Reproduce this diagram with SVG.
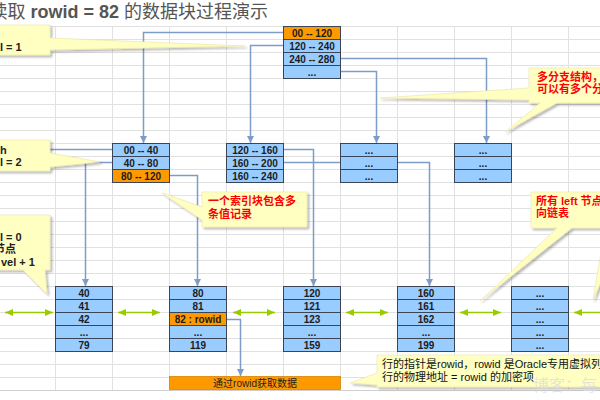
<svg xmlns="http://www.w3.org/2000/svg" width="600" height="400" viewBox="0 0 600 400">
<defs>
<pattern id="grid" x="55" y="26" width="57" height="13" patternUnits="userSpaceOnUse">
<path d="M0 0.5H57M0.5 0V13" fill="none" stroke="#e1e1e1" stroke-width="1"/>
</pattern>
<marker id="ah" markerUnits="userSpaceOnUse" markerWidth="8" markerHeight="8" refX="7" refY="3.5" orient="auto">
<path d="M0 0L7 3.5L0 7z" fill="#7e9cc8"/>
</marker>
<marker id="gh" markerUnits="userSpaceOnUse" markerWidth="10" markerHeight="10" refX="8" refY="3.5" orient="auto-start-reverse">
<path d="M0 0L8 3.5L0 7z" fill="#99cc00"/>
</marker>
<filter id="sh" x="-5%" y="-10%" width="115%" height="130%">
<feDropShadow dx="2" dy="2" stdDeviation="1.2" flood-color="#000" flood-opacity="0.28"/>
</filter>
</defs>
<style>
.cb{fill:#99ccff;stroke:#3a4658;stroke-width:1}
.co{fill:#ff9900;stroke:#3a4658;stroke-width:1}
.nt{font-family:"Liberation Sans","Noto Sans CJK SC",sans-serif;font-size:10px;font-weight:bold;fill:#1c1c1c;text-anchor:middle}
.conn{fill:none;stroke:#7e9cc8;stroke-width:1.5}
.link{fill:none;stroke:#99cc00;stroke-width:1.5;marker-start:url(#gh);marker-end:url(#gh)}
.callout{fill:#ffffc2;stroke:#ebe3a6;stroke-width:0.6;filter:url(#sh)}
.ct{font-family:"Liberation Sans","Noto Sans CJK SC",sans-serif;font-size:11px;font-weight:bold;fill:#222}
.red{fill:#ff0000}
.bt{font-family:"Liberation Sans","Noto Sans CJK SC",sans-serif;font-size:11px;fill:#111}
</style>
<rect x="0" y="0" width="600" height="400" fill="#ffffff"/>
<rect x="0" y="26" width="600" height="364" fill="url(#grid)"/>
<line x1="0" y1="390.5" x2="600" y2="390.5" stroke="#cfcfcf" stroke-width="1"/>
<text x="268" y="18" text-anchor="end" font-family="'Liberation Sans','Noto Sans CJK SC',sans-serif" font-size="18" fill="#555">读取 <tspan font-weight="bold">rowid = 82</tspan> 的数据块过程演示</text>

<g id="connectors">
<path class="conn" d="M283 32.5H143.5V143" marker-end="url(#ah)"/>
<path class="conn" d="M283 45.5H250.5V143" marker-end="url(#ah)"/>
<path class="conn" d="M340 58.5H486.5V143" marker-end="url(#ah)"/>
<path class="conn" d="M340 71.5H376.5V143" marker-end="url(#ah)"/>
<path class="conn" d="M112 149.5H-5"/>
<path class="conn" d="M112 162.5H85.5V286" marker-end="url(#ah)"/>
<path class="conn" d="M169 175.5H197.5V286" marker-end="url(#ah)"/>
<path class="conn" d="M283 149.5H313.5V286" marker-end="url(#ah)"/>
<path class="conn" d="M283 162.5H429.5V286" marker-end="url(#ah)"/>
<path class="conn" d="M226 319.5H240.5V376" marker-end="url(#ah)"/>
<line class="link" x1="5" y1="312.5" x2="53" y2="312.5"/>
<line class="link" x1="118" y1="312.5" x2="160" y2="312.5"/>
<line class="link" x1="233" y1="312.5" x2="275" y2="312.5"/>
<line class="link" x1="346" y1="312.5" x2="388" y2="312.5"/>
<line class="link" x1="460" y1="312.5" x2="501" y2="312.5"/>
<line class="link" x1="574" y1="312.5" x2="616" y2="312.5"/>
</g>

<g id="root">
<rect class="co" x="283.5" y="26.5" width="57" height="13"/><text class="nt" x="312" y="36.5">00 -- 120</text>
<rect class="cb" x="283.5" y="39.5" width="57" height="13"/><text class="nt" x="312" y="49.5">120 -- 240</text>
<rect class="cb" x="283.5" y="52.5" width="57" height="13"/><text class="nt" x="312" y="62.5">240 -- 280</text>
<rect class="cb" x="283.5" y="65.5" width="57" height="13"/><text class="nt" x="312" y="75.5">...</text>
</g>

<g id="branch-a">
<rect class="cb" x="112.5" y="143.5" width="57" height="13"/><text class="nt" x="141" y="153.5">00 -- 40</text>
<rect class="cb" x="112.5" y="156.5" width="57" height="13"/><text class="nt" x="141" y="166.5">40 -- 80</text>
<rect class="co" x="112.5" y="169.5" width="57" height="13"/><text class="nt" x="141" y="179.5">80 -- 120</text>
</g>
<g id="branch-b">
<rect class="cb" x="226.5" y="143.5" width="57" height="13"/><text class="nt" x="255" y="153.5">120 -- 160</text>
<rect class="cb" x="226.5" y="156.5" width="57" height="13"/><text class="nt" x="255" y="166.5">160 -- 200</text>
<rect class="cb" x="226.5" y="169.5" width="57" height="13"/><text class="nt" x="255" y="179.5">160 -- 240</text>
</g>
<g id="branch-c">
<rect class="cb" x="340.5" y="143.5" width="57" height="13"/><text class="nt" x="369" y="153.5">...</text>
<rect class="cb" x="340.5" y="156.5" width="57" height="13"/><text class="nt" x="369" y="166.5">...</text>
<rect class="cb" x="340.5" y="169.5" width="57" height="13"/><text class="nt" x="369" y="179.5">...</text>
</g>
<g id="branch-d">
<rect class="cb" x="454.5" y="143.5" width="57" height="13"/><text class="nt" x="483" y="153.5">...</text>
<rect class="cb" x="454.5" y="156.5" width="57" height="13"/><text class="nt" x="483" y="166.5">...</text>
<rect class="cb" x="454.5" y="169.5" width="57" height="13"/><text class="nt" x="483" y="179.5">...</text>
</g>

<g id="leaf-1">
<rect class="cb" x="55.5" y="286.5" width="57" height="13"/><text class="nt" x="84" y="296.5">40</text>
<rect class="cb" x="55.5" y="299.5" width="57" height="13"/><text class="nt" x="84" y="309.5">41</text>
<rect class="cb" x="55.5" y="312.5" width="57" height="13"/><text class="nt" x="84" y="322.5">42</text>
<rect class="cb" x="55.5" y="325.5" width="57" height="13"/><text class="nt" x="84" y="335.5">...</text>
<rect class="cb" x="55.5" y="338.5" width="57" height="13"/><text class="nt" x="84" y="348.5">79</text>
</g>
<g id="leaf-2">
<rect class="cb" x="169.5" y="286.5" width="57" height="13"/><text class="nt" x="198" y="296.5">80</text>
<rect class="cb" x="169.5" y="299.5" width="57" height="13"/><text class="nt" x="198" y="309.5">81</text>
<rect class="co" x="169.5" y="312.5" width="57" height="13"/><text class="nt" x="198" y="322.5">82 : rowid</text>
<rect class="cb" x="169.5" y="325.5" width="57" height="13"/><text class="nt" x="198" y="335.5">...</text>
<rect class="cb" x="169.5" y="338.5" width="57" height="13"/><text class="nt" x="198" y="348.5">119</text>
</g>
<g id="leaf-3">
<rect class="cb" x="283.5" y="286.5" width="57" height="13"/><text class="nt" x="312" y="296.5">120</text>
<rect class="cb" x="283.5" y="299.5" width="57" height="13"/><text class="nt" x="312" y="309.5">121</text>
<rect class="cb" x="283.5" y="312.5" width="57" height="13"/><text class="nt" x="312" y="322.5">123</text>
<rect class="cb" x="283.5" y="325.5" width="57" height="13"/><text class="nt" x="312" y="335.5">...</text>
<rect class="cb" x="283.5" y="338.5" width="57" height="13"/><text class="nt" x="312" y="348.5">159</text>
</g>
<g id="leaf-4">
<rect class="cb" x="397.5" y="286.5" width="57" height="13"/><text class="nt" x="426" y="296.5">160</text>
<rect class="cb" x="397.5" y="299.5" width="57" height="13"/><text class="nt" x="426" y="309.5">161</text>
<rect class="cb" x="397.5" y="312.5" width="57" height="13"/><text class="nt" x="426" y="322.5">162</text>
<rect class="cb" x="397.5" y="325.5" width="57" height="13"/><text class="nt" x="426" y="335.5">...</text>
<rect class="cb" x="397.5" y="338.5" width="57" height="13"/><text class="nt" x="426" y="348.5">199</text>
</g>
<g id="leaf-5">
<rect class="cb" x="511.5" y="286.5" width="57" height="13"/><text class="nt" x="540" y="296.5">...</text>
<rect class="cb" x="511.5" y="299.5" width="57" height="13"/><text class="nt" x="540" y="309.5">...</text>
<rect class="cb" x="511.5" y="312.5" width="57" height="13"/><text class="nt" x="540" y="322.5">...</text>
<rect class="cb" x="511.5" y="325.5" width="57" height="13"/><text class="nt" x="540" y="335.5">...</text>
<rect class="cb" x="511.5" y="338.5" width="57" height="13"/><text class="nt" x="540" y="348.5">...</text>
</g>

<g id="fetch">
<rect x="169.5" y="376.5" width="171" height="13" fill="#ff9900" stroke="#d88300" stroke-width="0.8"/>
<text class="nt" x="255" y="386.5" style="font-weight:normal;fill:#222">通过rowid获取数据</text>
</g>

<g id="note-level1">
<path class="callout" d="M-6 25H50V38L245 46L50 50V55H-6Z"/>
<text class="ct" x="0" y="51">l = 1</text>
</g>
<g id="note-level2">
<path class="callout" d="M-6 140H50V153L100 162L50 167V171H-6Z"/>
<text class="ct" x="0" y="154">h</text>
<text class="ct" x="0" y="166">l = 2</text>
</g>
<g id="note-level0">
<path class="callout" d="M-6 215H50V270H45L47 294L23 270H-6Z"/>
<text class="ct" x="0" y="241">l = 0</text>
<text class="ct" x="-6" y="253">节点</text>
<text class="ct" x="1" y="266">vel + 1</text>
</g>
<g id="note-block">
<path class="callout" d="M202 192H307V227H202V220L162 193L202 207Z"/>
<text class="ct red" x="208" y="205">一个索引块包含多</text>
<text class="ct red" x="208" y="218">条值记录</text>
</g>
<g id="note-branch">
<path class="callout" d="M529 68H612V103H557L505 132L540 103H529V100L380 98L529 88Z"/>
<text class="ct red" x="537" y="81">多分支结构，</text>
<text class="ct red" x="537" y="93">可以有多个分</text>
</g>
<g id="note-left">
<path class="callout" d="M531 192H630V228H625L593 300L605 228H572L480 301L557 228H531Z"/>
<text class="ct red" x="536" y="205">所有 left 节点</text>
<text class="ct red" x="536" y="217">向链表</text>
</g>
<g id="note-rowid">
<path class="callout" d="M377 355H612V387H377V385L350 383L377 373Z"/>
<text class="bt" x="382" y="368">行的指针是rowid，rowid 是Oracle专用虚拟列</text>
<text class="bt" x="382" y="381">行的物理地址 = rowid 的加密项</text>
</g>
<text x="533" y="391" font-family="'Noto Sans CJK SC',sans-serif" font-size="16" fill="#d9d9d9" fill-opacity="0.7">博客：每</text>
</svg>
